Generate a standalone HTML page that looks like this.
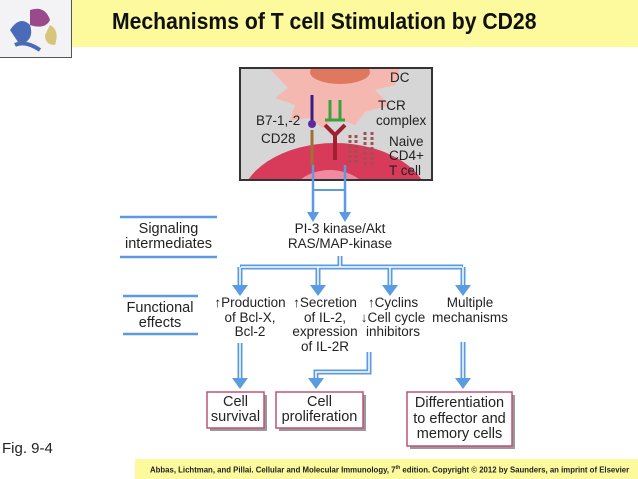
<!DOCTYPE html>
<html><head><meta charset="utf-8"><style>
body{margin:0;width:638px;height:479px;background:#fff;position:relative;overflow:hidden;font-family:"Liberation Sans",sans-serif}
.t{position:absolute;text-align:center;font-size:13.5px;line-height:14.5px;color:#222}
</style></head><body>
<div style="position:absolute;left:72px;top:0;width:566px;height:47px;background:#fdfa9e"></div>
<div style="position:absolute;left:0;top:0;width:71px;height:57px;border-right:1px solid #555;border-bottom:1px solid #555;background:#f3f3f6"></div>
<svg style="position:absolute;left:0;top:0" width="71" height="57">
<path d="M10 30 q10 -15 20 -5 q5 15 -10 20z" fill="#4a6bb8"/><path d="M30 10 q15 -5 20 10 q-5 10 -20 5z" fill="#9a4a8a"/><path d="M50 25 q10 5 5 20 q-10 0 -10 -10z" fill="#d8c57a"/><path d="M15 45 q10 -5 25 5" stroke="#4a6bb8" stroke-width="4" fill="none"/>
</svg>
<div style="position:absolute;left:112px;top:8px;font-size:23px;font-weight:bold;color:#111;white-space:nowrap;transform:scaleX(0.92);transform-origin:0 0">Mechanisms of T cell Stimulation by CD28</div>

<svg style="position:absolute;left:0;top:0" width="638" height="479">
<defs><clipPath id="c"><rect x="241" y="69" width="190" height="110"/></clipPath></defs>
<rect x="240" y="68" width="192" height="112" fill="#d6d6d6" stroke="#333" stroke-width="2"/>
<g clip-path="url(#c)">
<path d="M270 69 L400 69 L395 85 L375 90 L390 105 L365 112 L355 125 L335 118 L322 128 L310 118 L290 120 L295 105 L275 98 L288 88z" fill="#f4b8b0"/>
<ellipse cx="340" cy="72" rx="30" ry="12" fill="#e07860"/>
<ellipse cx="335" cy="205" rx="95" ry="62" fill="#d83a5a"/>
<ellipse cx="330" cy="200" rx="40" ry="30" fill="#f08aa0"/>
</g>
<line x1="312" y1="95" x2="312" y2="122" stroke="#3a1c8a" stroke-width="3"/><circle cx="312" cy="124" r="4" fill="#5a2aa0"/>
<line x1="312" y1="130" x2="312" y2="165" stroke="#a0703a" stroke-width="3"/>
<path d="M330 100 v20 M340 100 v20 M325 120 h20" stroke="#3aa040" stroke-width="3" fill="none"/>
<path d="M325 125 l10 10 l10 -10 M335 135 v25" stroke="#a02030" stroke-width="4" fill="none"/>
<path d="M350 135 v30 M356 135 v30 M365 132 v35 M372 132 v35" stroke="#a05050" stroke-width="3" stroke-dasharray="3 2"/>
<text x="390" y="82" font-size="13.5" fill="#222">DC</text>
<text x="378" y="110" font-size="13.5" fill="#222">TCR</text><text x="376" y="125" font-size="13.5" fill="#222">complex</text>
<text x="256" y="125" font-size="13.5" fill="#222">B7-1,-2</text><text x="261" y="143" font-size="13.5" fill="#222">CD28</text>
<text x="389" y="146" font-size="13.5" fill="#222">Naive</text><text x="389" y="160" font-size="13.5" fill="#222">CD4+</text><text x="389" y="175" font-size="13.5" fill="#222">T cell</text>
<g stroke="#5b9be0" fill="#5b9be0">
<line x1="313" y1="165" x2="313" y2="216" stroke-width="2.5"/><line x1="345" y1="165" x2="345" y2="216" stroke-width="2.5"/>
<line x1="313" y1="190" x2="345" y2="190" stroke-width="2"/>
<polygon points="307,212 319,212 313,222" stroke="none"/><polygon points="339,212 351,212 345,222" stroke="none"/>
<g stroke-width="5" fill="none"><path d="M340 256 V267 M240 267 H463 M240 267 V287 M318 267 V287 M390 267 V287 M463 267 V287"/>
<path d="M240 343 V380 M463 342 V380 M369 352 V372 H316 V380"/></g>
</g>
<g stroke="#fff" stroke-width="1.5" fill="none"><path d="M340 256 V267 M241 267 H462 M240 267 V288 M318 267 V288 M390 267 V288 M463 267 V288"/>
<path d="M240 343 V381 M463 342 V381 M369 352 V372 H316 V381"/></g>
<g fill="#5b9be0"><polygon points="232,285 248,285 240,296"/><polygon points="310,285 326,285 318,296"/><polygon points="382,285 398,285 390,296"/><polygon points="455,285 471,285 463,296"/>
<polygon points="232,378 248,378 240,389"/><polygon points="308,378 324,378 316,389"/><polygon points="455,378 471,378 463,389"/></g>
<g stroke="#5b9be0" stroke-width="2.5"><line x1="120" y1="217" x2="217" y2="217"/><line x1="120" y1="257" x2="217" y2="257"/><line x1="123" y1="296" x2="198" y2="296"/><line x1="123" y1="334" x2="198" y2="334"/></g>
<g fill="#999"><rect x="210" y="395" width="57" height="36"/><rect x="279" y="395" width="87" height="36"/><rect x="410" y="395" width="105" height="54"/></g>
<g fill="#fff" stroke="#c0507a" stroke-width="1.5"><rect x="207" y="392" width="57" height="36"/><rect x="276" y="392" width="87" height="36"/><rect x="407" y="392" width="105" height="54"/></g>
</svg>
<div class="t" style="left:110px;top:222px;width:117px;font-size:14.5px">Signaling<br>intermediates</div>
<div class="t" style="left:265px;top:222px;width:150px">PI-3 kinase/Akt<br>RAS/MAP-kinase</div>
<div class="t" style="left:110px;top:301px;width:100px;font-size:14.5px">Functional<br>effects</div>
<div class="t" style="left:198px;top:296px;width:104px">↑Production<br>of Bcl-X,<br>Bcl-2</div>
<div class="t" style="left:278px;top:296px;width:94px">↑Secretion<br>of IL-2,<br>expression<br>of IL-2R</div>
<div class="t" style="left:346px;top:296px;width:94px">↑Cyclins<br>↓Cell cycle<br>inhibitors</div>
<div class="t" style="left:422px;top:296px;width:96px">Multiple<br>mechanisms</div>
<div class="t" style="left:207px;top:395px;width:57px;font-size:14.5px;line-height:15px">Cell<br>survival</div>
<div class="t" style="left:276px;top:395px;width:87px;font-size:14.5px;line-height:15px">Cell<br>proliferation</div>
<div class="t" style="left:405px;top:396px;width:109px;font-size:14.5px;line-height:15.5px">Differentiation<br>to effector and<br>memory cells</div>
<div style="position:absolute;left:2px;top:440px;font-size:15px;color:#222">Fig. 9-4</div>
<div style="position:absolute;left:135px;top:459px;width:503px;height:20px;background:#fdfa9e"></div>
<div style="position:absolute;left:150px;top:465px;font-size:7.8px;font-weight:bold;white-space:nowrap;color:#222">Abbas, Lichtman, and Pillai. Cellular and Molecular Immunology, 7<sup style="font-size:5px">th</sup> edition. Copyright © 2012 by Saunders, an imprint of Elsevier</div>
</body></html>
